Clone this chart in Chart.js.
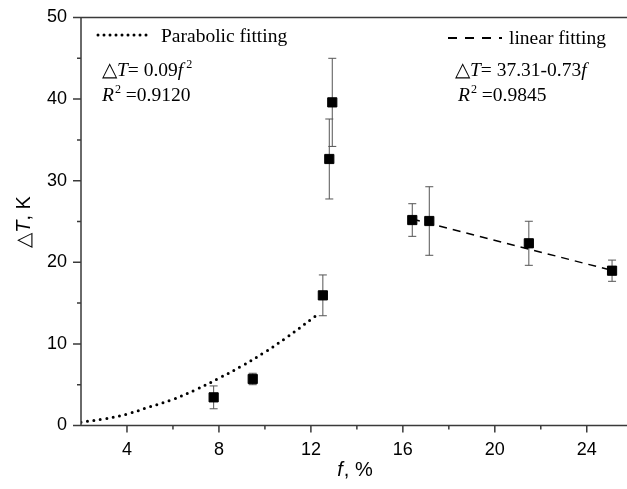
<!DOCTYPE html>
<html>
<head>
<meta charset="utf-8">
<script src="https://cdn.jsdelivr.net/npm/chart.js"></script>
<style>
  html, body { margin: 0; padding: 0; background: #fff; overflow: hidden; }
</style>
</head>
<body>
<canvas id="myChart" width="627" height="489"></canvas>
<script>
// measured points (f, %) and dT (K) with error half-widths
const fVals = [7.77, 9.47, 12.52, 12.80, 12.93, 16.41, 17.15, 21.48, 25.1];
const dT    = [3.45, 5.7, 15.95, 32.66, 39.6, 25.18, 25.06, 22.33, 18.97];
const dTErr = [1.4, 0.7, 2.5, 4.9, 5.4, 2.0, 4.2, 2.7, 1.3];

// parabolic fit curve
const paraF = [2, 3, 4, 5, 6, 7, 8, 9, 10, 11, 12, 12.3];
const paraT = [0.4, 0.8, 1.4, 2.3, 3.2, 4.4, 5.8, 7.3, 9.0, 10.9, 13.0, 13.6];

// linear fit line
const linF = [16.4, 25.1];
const linT = [25.3, 19.0];

const xTicks = [4, 8, 12, 16, 20, 24];
const yTicks = [0, 10, 20, 30, 40, 50];

const serif = '"Liberation Serif", "Times New Roman", serif';
const sans = '"Liberation Sans", Arial, sans-serif';
const axisColor = '#3a3a3a';

function pts(xs, ys) {
  return xs.map((x, i) => ({x: x, y: ys[i]}));
}

// draw a run of text pieces; {t, it, sup, gap}
function drawRich(ctx, x, y, parts, size) {
  ctx.save();
  ctx.textBaseline = 'alphabetic';
  ctx.textAlign = 'left';
  ctx.fillStyle = '#000';
  let cx = x;
  parts.forEach(p => {
    const fs = p.sup ? size * 0.62 : size;
    ctx.font = (p.it ? 'italic ' : '') + fs + 'px ' + (p.font || serif);
    cx += p.gap || 0;
    ctx.fillText(p.t, cx, p.sup ? y - size * 0.42 : y);
    cx += ctx.measureText(p.t).width;
  });
  ctx.restore();
  return cx;
}

function richWidth(ctx, parts, size) {
  let w = 0;
  parts.forEach(p => {
    ctx.font = (p.it ? 'italic ' : '') + size + 'px ' + (p.font || serif);
    w += ctx.measureText(p.t).width + (p.gap || 0);
  });
  return w;
}

const errorBars = {
  id: 'errorBars',
  beforeDatasetsDraw(chart) {
    const {ctx, scales: {x, y}} = chart;
    ctx.save();
    ctx.strokeStyle = '#555';
    ctx.lineWidth = 1;
    fVals.forEach((f, i) => {
      const px = x.getPixelForValue(f);
      const top = y.getPixelForValue(dT[i] + dTErr[i]);
      const bot = y.getPixelForValue(dT[i] - dTErr[i]);
      ctx.beginPath();
      ctx.moveTo(px, top); ctx.lineTo(px, bot);
      ctx.moveTo(px - 4, top); ctx.lineTo(px + 4, top);
      ctx.moveTo(px - 4, bot); ctx.lineTo(px + 4, bot);
      ctx.stroke();
    });
    ctx.restore();
  }
};

const frame = {
  id: 'frame',
  afterDraw(chart) {
    const {ctx, chartArea: a, scales: {x, y}} = chart;
    ctx.save();
    ctx.strokeStyle = axisColor;
    ctx.lineWidth = 1.5;
    ctx.beginPath();
    ctx.moveTo(a.left, a.top); ctx.lineTo(a.right, a.top);
    ctx.moveTo(a.left, a.top); ctx.lineTo(a.left, a.bottom);
    ctx.moveTo(a.left, a.bottom); ctx.lineTo(a.right, a.bottom);
    // x tick marks (every 2, long at labelled ones)
    x.ticks.forEach(t => {
      if (t.value <= x.min || t.value % 2 !== 0) return;
      const px = x.getPixelForValue(t.value);
      const len = t.value % 4 === 0 ? 7 : 4;
      ctx.moveTo(px, a.bottom); ctx.lineTo(px, a.bottom + len);
    });
    // y tick marks
    y.ticks.forEach(t => {
      const py = y.getPixelForValue(t.value);
      const len = t.value % 10 === 0 ? 8 : 4;
      ctx.moveTo(a.left, py); ctx.lineTo(a.left - len, py);
    });
    ctx.stroke();

    // axis titles
    const xt = [{t: 'f', it: true, font: sans}, {t: ', %', font: sans, gap: 1}];
    drawRich(ctx, 355 - richWidth(ctx, xt, 20) / 2, 476, xt, 20);

    ctx.save();
    ctx.translate(30, 222);
    ctx.rotate(-Math.PI / 2);
    const yt = [{t: '\u25B3', font: sans}, {t: 'T', it: true, font: sans}, {t: ', K', font: sans}];
    drawRich(ctx, -richWidth(ctx, yt, 20) / 2, 0, yt, 20);
    ctx.restore();

    // legend samples
    ctx.strokeStyle = '#000';
    ctx.lineWidth = 3;
    ctx.lineCap = 'round';
    ctx.setLineDash([0, 6]);
    ctx.beginPath(); ctx.moveTo(98, 35); ctx.lineTo(151, 35); ctx.stroke();
    ctx.lineWidth = 2;
    ctx.lineCap = 'butt';
    ctx.setLineDash([9, 8]);
    ctx.beginPath(); ctx.moveTo(448, 38); ctx.lineTo(502, 38); ctx.stroke();
    ctx.setLineDash([]);

    const fs = 19.5;
    drawRich(ctx, 161, 42, [{t: 'Parabolic fitting'}], fs);
    drawRich(ctx, 102, 76, [{t: '\u25B3'}, {t: 'T', it: true}, {t: '= 0.09'}, {t: 'f', it: true}, {t: '2', sup: true, gap: 3}], fs);
    drawRich(ctx, 102, 101, [{t: 'R', it: true}, {t: '2', sup: true, gap: 1}, {t: ' =0.9120'}], fs);

    drawRich(ctx, 509, 44, [{t: 'linear fitting'}], fs);
    drawRich(ctx, 455, 76, [{t: '\u25B3'}, {t: 'T', it: true}, {t: '= 37.31-0.73'}, {t: 'f', it: true}], fs);
    drawRich(ctx, 458, 101, [{t: 'R', it: true}, {t: '2', sup: true, gap: 1}, {t: ' =0.9845'}], fs);
    ctx.restore();
  }
};

const ctx = document.getElementById('myChart');

new Chart(ctx, {
  type: 'scatter',
  data: {
    datasets: [{
      label: 'Parabolic fitting',
      type: 'line',
      data: pts(paraF, paraT),
      borderColor: '#000',
      borderWidth: 3,
      borderDash: [0, 6.5],
      borderCapStyle: 'round',
      pointRadius: 0,
      tension: 0.4,
      fill: false,
      order: 2
    }, {
      label: 'linear fitting',
      type: 'line',
      data: pts(linF, linT),
      borderColor: '#000',
      borderWidth: 1.5,
      borderDash: [8, 6],
      pointRadius: 0,
      fill: false,
      order: 2
    }, {
      label: 'data',
      data: pts(fVals, dT),
      pointStyle: 'rect',
      pointRadius: 6.5,
      pointBackgroundColor: '#000',
      pointBorderColor: '#000',
      pointBorderWidth: 1,
      order: 1
    }]
  },
  options: {
    responsive: false,
    animation: false,
    layout: { autoPadding: false, padding: { top: 17.5, right: 0, left: 0, bottom: 0 } },
    plugins: {
      legend: { display: false },
      tooltip: { enabled: false }
    },
    scales: {
      x: {
        type: 'linear',
        min: 2,
        max: 25.75,
        afterFit: s => { s.height = 63.5; s.paddingLeft = 0; s.paddingRight = 0; },
        grid: { display: false, drawTicks: false },
        border: { display: false },
        ticks: {
          stepSize: 2,
          padding: 14,
          autoSkip: false,
          includeBounds: false,
          maxRotation: 0,
          color: '#000',
          font: { family: sans, size: 18 },
          callback: v => xTicks.includes(v) ? String(v) : ''
        }
      },
      y: {
        min: 0,
        max: 50,
        afterFit: s => { s.width = 81; s.paddingTop = 0; s.paddingBottom = 0; },
        grid: { display: false, drawTicks: false },
        border: { display: false },
        ticks: {
          stepSize: 5,
          padding: 14,
          color: '#000',
          font: { family: sans, size: 18 },
          callback: v => yTicks.includes(v) ? String(v) : ''
        }
      }
    }
  },
  plugins: [errorBars, frame]
});
</script>
</body>
</html>
